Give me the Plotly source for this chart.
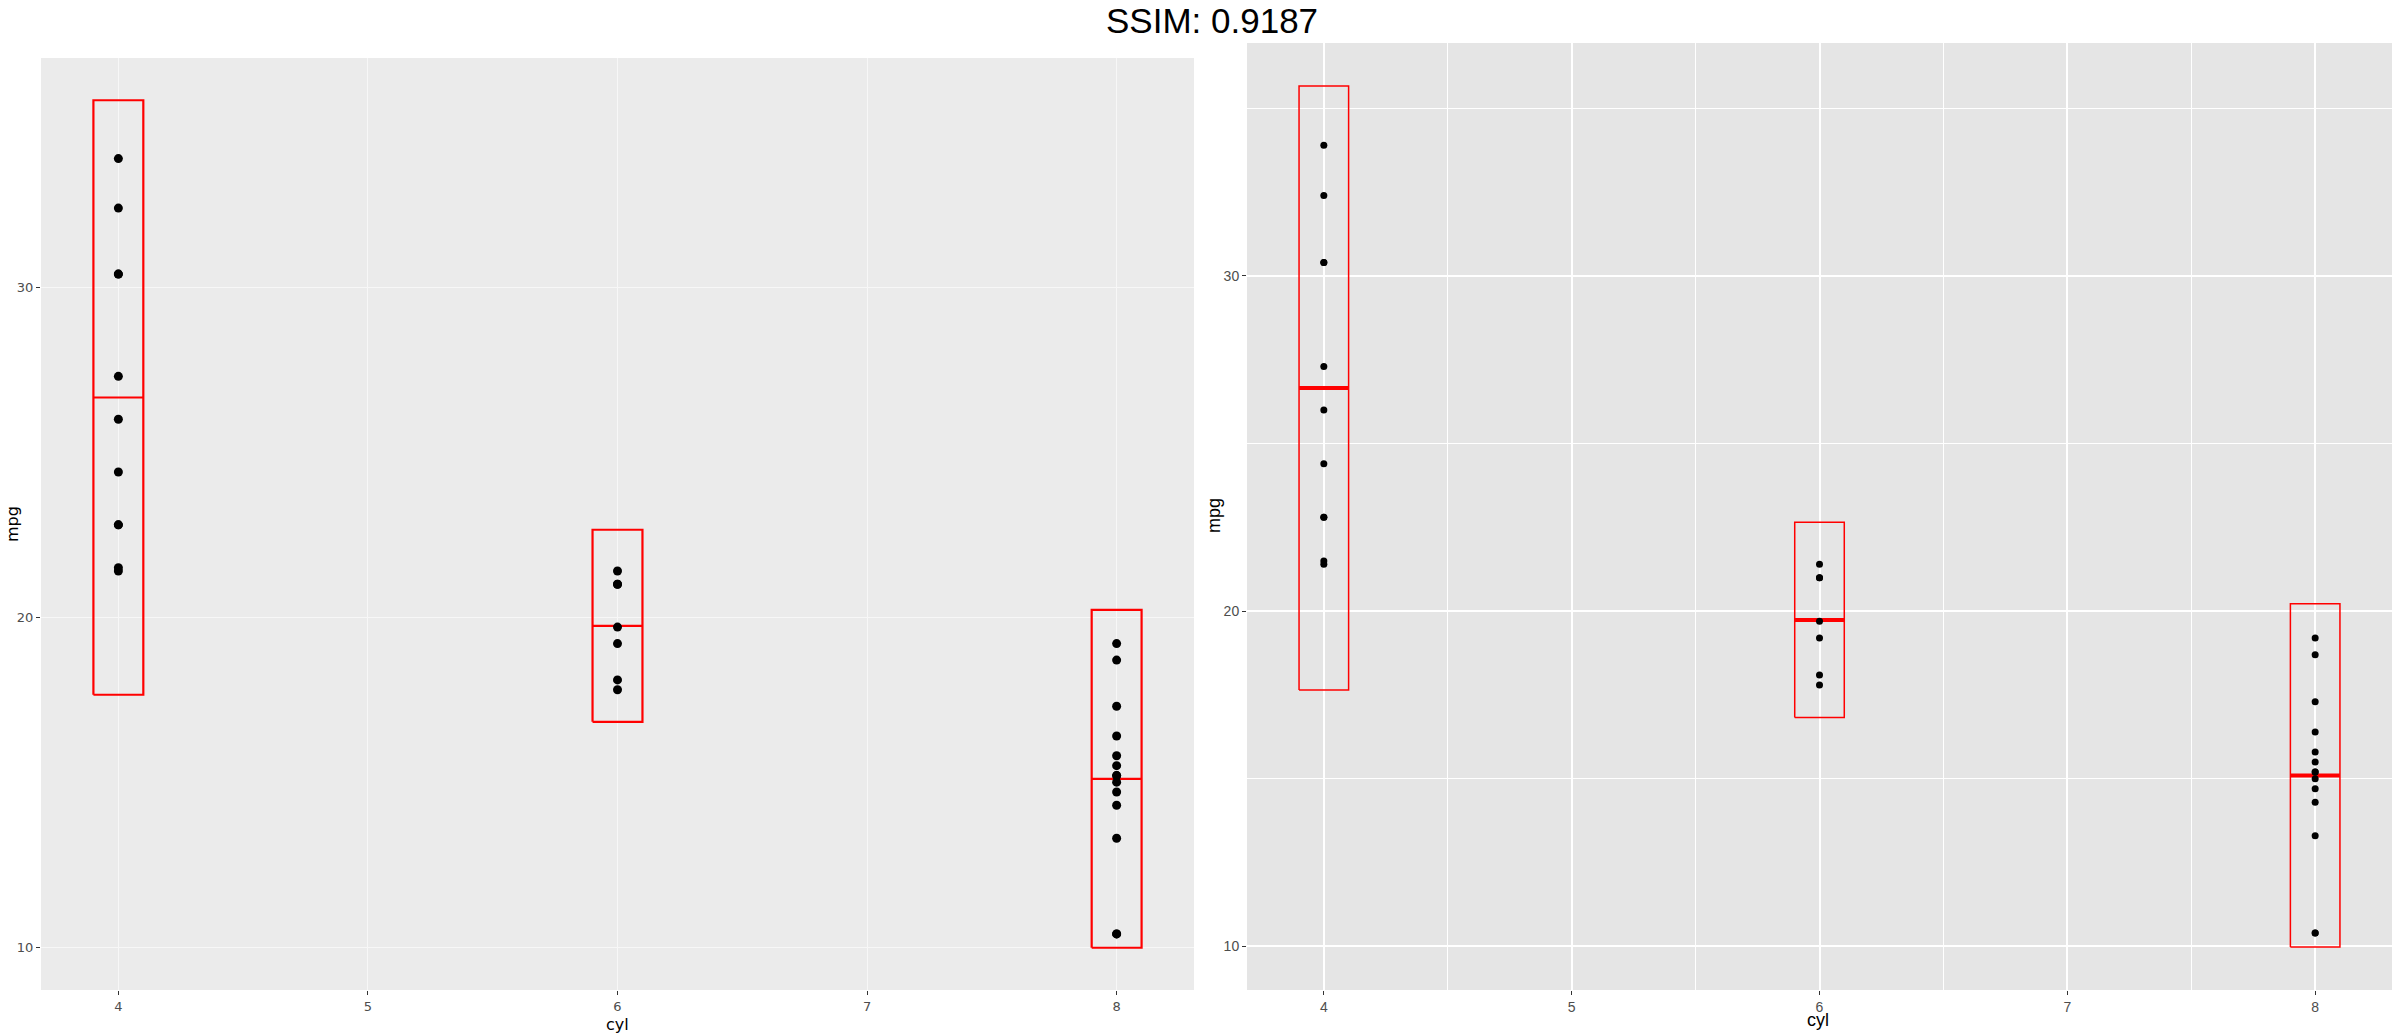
import plotly.graph_objects as go

# ---- data (mtcars: cyl vs mpg) ----
cyl4_mpg = [22.8, 24.4, 22.8, 32.4, 30.4, 33.9, 21.5, 27.3, 26.0, 30.4, 21.4]
cyl6_mpg = [21.0, 21.0, 21.4, 18.1, 19.2, 17.8, 19.7]
cyl8_mpg = [18.7, 14.3, 16.4, 17.3, 15.2, 10.4, 10.4, 14.7, 15.5, 15.2, 13.3, 19.2, 15.8, 15.0]
groups = [4, 6, 8]
group_values = [cyl4_mpg, cyl6_mpg, cyl8_mpg]
bar_mid = [26.66, 19.74, 15.10]
bar_low = [17.65, 16.83, 9.98]
bar_high = [35.67, 22.65, 20.22]
x_ticks = [4, 5, 6, 7, 8]
y_ticks = [10, 20, 30]
title_text = "SSIM: 0.9187"

W, H = 2400, 1034
HALF = 0.1  # half width of crossbar in data units

def px_x(p):
    return p / W

def px_y(p):
    return 1 - p / H

fig = go.Figure()

def add_panel(xa, ya, msize, box_w, mid_w):
    xs, ys = [], []
    for g, vals in zip(groups, group_values):
        xs += [g] * len(vals)
        ys += vals
    bx, by, mx, my = [], [], [], []
    for g, lo, hi, m in zip(groups, bar_low, bar_high, bar_mid):
        bx += [g - HALF, g + HALF, g + HALF, g - HALF, g - HALF, None]
        by += [lo, lo, hi, hi, lo, None]
        mx += [g - HALF, g + HALF, None]
        my += [m, m, None]
    fig.add_trace(go.Scatter(x=bx, y=by, mode="lines", xaxis=xa, yaxis=ya,
                             line=dict(color="#FF0000", width=box_w), showlegend=False,
                             hoverinfo="skip"))
    fig.add_trace(go.Scatter(x=mx, y=my, mode="lines", xaxis=xa, yaxis=ya,
                             line=dict(color="#FF0000", width=mid_w), showlegend=False,
                             hoverinfo="skip"))
    fig.add_trace(go.Scatter(x=xs, y=ys, mode="markers", xaxis=xa, yaxis=ya,
                             marker=dict(color="black", size=msize), showlegend=False))

add_panel("x", "y", 9, 2.2, 2.2)
add_panel("x2", "y2", 7, 1.5, 4)

xr = [3.69, 8.31]
yr = [8.70, 36.95]
tickfont_l = dict(family="DejaVu Sans, Liberation Sans", size=13, color="#4D4D4D")
tickfont_r = dict(family="Liberation Sans Narrow, Liberation Sans", size=14, color="#4D4D4D")

common = dict(showline=False, zeroline=False, ticks="outside", ticklen=4,
              tickwidth=1, tickcolor="#333333", automargin=False)

fig.update_layout(
    width=W, height=H,
    margin=dict(l=0, r=0, t=0, b=0, autoexpand=False),
    paper_bgcolor="white",
    plot_bgcolor="rgba(0,0,0,0)",
    showlegend=False,
    xaxis=dict(domain=[px_x(41), px_x(1194)], range=xr, anchor="y",
               tickvals=x_ticks, ticktext=[str(t) for t in x_ticks],
               showgrid=True, gridcolor="#F7F7F7", gridwidth=1.3,
               tickfont=tickfont_l, **common),
    yaxis=dict(domain=[px_y(990), px_y(58)], range=yr, anchor="x",
               tickvals=y_ticks, ticktext=[str(t) for t in y_ticks],
               showgrid=True, gridcolor="#F7F7F7", gridwidth=1.3,
               tickfont=tickfont_l, **common),
    xaxis2=dict(domain=[px_x(1247), px_x(2392)], range=xr, anchor="y2",
                tickvals=x_ticks, ticktext=[str(t) for t in x_ticks],
                showgrid=True, gridcolor="white", gridwidth=2,
                minor=dict(dtick=0.5, tick0=4.5, showgrid=True, gridcolor="white",
                           gridwidth=1, ticks=""),
                tickfont=tickfont_r, **common),
    yaxis2=dict(domain=[px_y(990), px_y(43)], range=yr, anchor="x2",
                tickvals=y_ticks, ticktext=[str(t) for t in y_ticks],
                showgrid=True, gridcolor="white", gridwidth=2,
                minor=dict(tickvals=[15, 25, 35], showgrid=True, gridcolor="white",
                           gridwidth=1, ticks=""),
                tickfont=tickfont_r, **common),
    shapes=[
        dict(type="rect", xref="x domain", yref="y domain", x0=0, x1=1, y0=0, y1=1,
             fillcolor="#EBEBEB", line=dict(width=0), layer="below"),
        dict(type="rect", xref="x2 domain", yref="y2 domain", x0=0, x1=1, y0=0, y1=1,
             fillcolor="#E5E5E5", line=dict(width=0), layer="below"),
    ],
    annotations=[
        dict(text=title_text, xref="paper", yref="paper", x=px_x(1212), y=px_y(21),
             xanchor="center", yanchor="middle", showarrow=False,
             font=dict(family="Liberation Sans, Arial", size=35, color="black")),
        dict(text="cyl", xref="paper", yref="paper", x=px_x(617), y=px_y(1024),
             xanchor="center", yanchor="middle", showarrow=False,
             font=dict(family="DejaVu Sans, Liberation Sans", size=16, color="black")),
        dict(text="mpg", xref="paper", yref="paper", x=px_x(12), y=px_y(524),
             xanchor="center", yanchor="middle", showarrow=False, textangle=-90,
             font=dict(family="DejaVu Sans, Liberation Sans", size=16, color="black")),
        dict(text="cyl", xref="paper", yref="paper", x=px_x(1818), y=px_y(1020),
             xanchor="center", yanchor="middle", showarrow=False,
             font=dict(family="Liberation Sans Narrow, Liberation Sans", size=18, color="black")),
        dict(text="mpg", xref="paper", yref="paper", x=px_x(1214), y=px_y(516),
             xanchor="center", yanchor="middle", showarrow=False, textangle=-90,
             font=dict(family="Liberation Sans Narrow, Liberation Sans", size=18, color="black")),
    ],
)

fig.write_html(
    "out.html",
    config={"displayModeBar": False},
    post_script="document.body.style.margin='0';document.body.style.padding='0';"
                "document.body.style.overflow='hidden';",
)
